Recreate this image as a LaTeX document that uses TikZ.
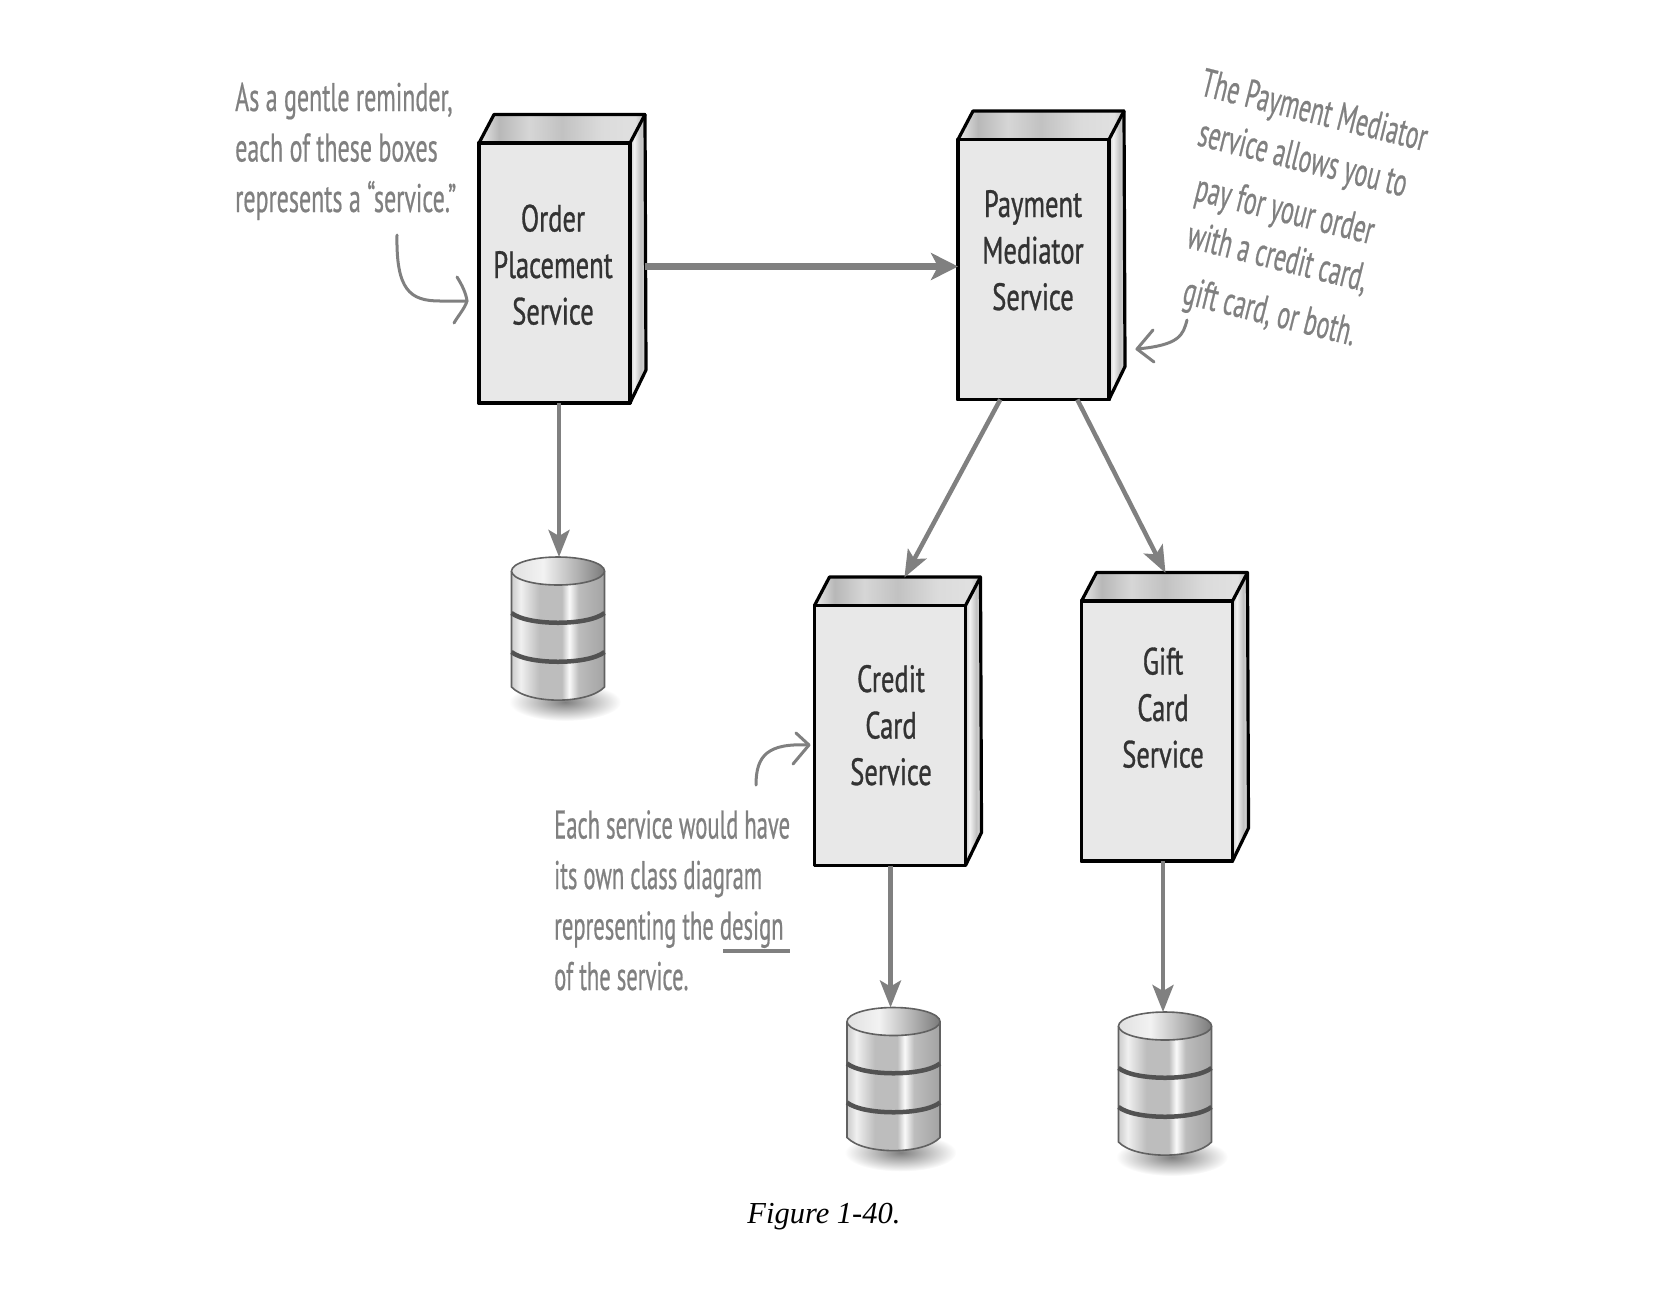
\documentclass[tikz,border=0pt]{standalone}
\usepackage{fontspec}
\setmainfont{Liberation Serif}
\newfontfamily\handnote[FakeStretch=0.6,FakeBold=0.5]{PT Sans}
\newfontfamily\handnotenarrow[FakeStretch=0.565,FakeBold=0.5]{PT Sans}
\newfontfamily\handlabel[FakeStretch=0.7,FakeBold=0.8]{PT Sans}
\usetikzlibrary{calc,arrows.meta}
\definecolor{inkgray}{gray}{0.5}
\definecolor{labelink}{gray}{0.2}
\pgfdeclarehorizontalshading{boxtopshade}{100bp}{color(0bp)=(black!8); color(25bp)=(black!8); color(31bp)=(black!28); color(40bp)=(black!16); color(50bp)=(black!24); color(62bp)=(black!14); color(72bp)=(black!12); color(75bp)=(black!28); color(100bp)=(black!28)}
\pgfdeclarehorizontalshading{boxsideshade}{100bp}{color(0bp)=(black!20); color(25bp)=(black!20); color(38bp)=(black!5); color(58bp)=(black!24); color(75bp)=(black!14); color(100bp)=(black!14)}
\pgfdeclarehorizontalshading{dbbodyshade}{100bp}{color(0bp)=(black!20); color(25bp)=(black!20); color(30bp)=(black!6); color(40bp)=(black!26); color(52bp)=(black!26); color(56bp)=(black!2); color(61bp)=(black!26); color(75bp)=(black!36); color(100bp)=(black!36)}
\pgfdeclarehorizontalshading{dbtopshade}{100bp}{color(0bp)=(black!12); color(25bp)=(black!12); color(42bp)=(black!5); color(60bp)=(black!30); color(75bp)=(black!52); color(100bp)=(black!52)}
\tikzset{
  x=1pt,y=-1pt,
  frontbox/.style={draw=black,fill=black!9,line width=3.4pt,line cap=round,line join=round,minimum width=151pt,minimum height=260pt,inner sep=0pt,outer sep=0pt},
  boxedge/.style={draw=black,line width=3.2pt,line cap=round,line join=round},
  hitbox/.style={inner sep=0pt,outer sep=0pt,minimum width=168pt,minimum height=288pt},
  hitdb/.style={inner sep=0pt,outer sep=0pt,minimum width=94pt,minimum height=143pt},
  svclabel/.style={font=\handlabel\fontsize{38}{46.5}\selectfont,text=labelink,align=center,inner sep=0pt},
  notetext/.style={font=\handnote\fontsize{40}{50.5}\selectfont,text=inkgray,align=left,inner sep=0pt},
  notenarrow/.style={font=\handnotenarrow\fontsize{40}{50.5}\selectfont,text=inkgray,align=left,inner sep=0pt},
  noteline/.style={font=\handnote\fontsize{40}{50.5}\selectfont,text=inkgray,inner sep=0pt,anchor=base west,rotate=-14},
  flow/.style={draw=inkgray,line width=4.5pt,-{Stealth[length=27pt,width=21pt,inset=6pt]}},
  flowthick/.style={draw=inkgray,line width=7.5pt,-{Stealth[length=27pt,width=27pt,inset=7pt]}},
  pointer/.style={draw=inkgray,line width=3pt,line cap=round,line join=round},
}
\newcommand{\svcbox}[3]{%
  \node[frontbox] (#1) at (#2,#3) {};
  \node[hitbox] (#1box) at (#2+8.5,#3-14) {};
  \shade[shading=boxtopshade] (#1.north west) -- ([shift={(15,-28.5)}]#1.north west) -- ([shift={(15,-28.5)}]#1.north east) -- (#1.north east) -- cycle;
  \shade[shading=boxsideshade] (#1.north east) -- ([shift={(15,-28.5)}]#1.north east) -- ([shift={(16,-33)}]#1.south east) -- (#1.south east) -- cycle;
  \draw[boxedge] (#1.north west) -- ([shift={(15,-28.5)}]#1.north west) -- ([shift={(15,-28.5)}]#1.north east) -- ([shift={(16,-33)}]#1.south east) -- (#1.south east);
  \draw[boxedge] (#1.north east) -- ([shift={(15,-28.5)}]#1.north east);
  \draw[boxedge] (#1.north west) rectangle (#1.south east);
}
\newcommand{\dbcyl}[3]{%
  \node[hitdb] (#1) at (#2,#3+57.5) {};
  \begin{scope}[shift={(#2,#3)}]
    \shade[inner color=black!50,outer color=white] (7,131) ellipse [x radius=56pt,y radius=19pt];
    \shade[shading=dbbodyshade] (-46.5,0) -- (-46.5,116) .. controls (-30,133.5) and (30,133.5) .. (46.5,116) -- (46.5,0) -- cycle;
    \draw[black!62,line width=1.6pt] (-46.5,0) -- (-46.5,116) .. controls (-30,133.5) and (30,133.5) .. (46.5,116) -- (46.5,0);
    \draw[black!68,line width=4.5pt] (-46.5,42) .. controls (-30,55) and (30,55) .. (46.5,42);
    \draw[black!68,line width=4.5pt] (-46.5,81) .. controls (-30,94) and (30,94) .. (46.5,81);
    \shade[shading=dbtopshade] (0,0) ellipse [x radius=46.5pt,y radius=14pt];
    \draw[black!62,line width=1.6pt] (0,0) ellipse [x radius=46.5pt,y radius=14pt];
  \end{scope}
}
\begin{document}
\begin{tikzpicture}
\useasboundingbox (0,0) rectangle (1656,1296);

% services
\svcbox{order}{554.5}{273}
\svcbox{payment}{1033.5}{269.5}
\svcbox{credit}{890}{735.5}
\svcbox{gift}{1157}{731}

\node[svclabel,anchor=base] (orderlabel) at (553,324.5) {Order\\Placement\\Service};
\node[svclabel,anchor=base] (paymentlabel) at (1033,310) {Payment\\Mediator\\Service};
\node[svclabel,anchor=base] (creditlabel) at (891,785) {Credit\\Card\\Service};
\node[svclabel,anchor=base] (giftlabel) at (1163,767.5) {Gift\\Card\\Service};

% databases
\dbcyl{orderdb}{558}{571}
\dbcyl{creditdb}{893.5}{1021.5}
\dbcyl{giftdb}{1165}{1026}

% connectors
\draw[flowthick] ($(orderbox.east |- payment.west)+(-2,-3)$) -- ($(payment.west)+(0,-3)$);
\draw[flow] ($(order.south -| orderdb.north)+(1,0)$) -- ($(orderdb.north)+(1,0)$);
\draw[flow] ($(payment.south west)!0.28!(payment.south east)$) -- ($(creditbox.north west)!0.535!(creditbox.north east)$);
\draw[flow] ($(payment.south west)!0.79!(payment.south east)$) -- (giftbox.north);
\draw[flow] ($(credit.south -| creditdb.north)+(-3,0)$) -- ($(creditdb.north)+(-3,0)$);
\draw[flow] ($(gift.south -| giftdb.north)+(-2,0)$) -- ($(giftdb.north)+(-2,0)$);

% notes
\node[notetext,anchor=base west] (noteorder) at (235,212) {As a gentle reminder,\\each of these boxes\\represents a “service.”};
\node[notenarrow,anchor=base west] (notecredit) at (554,990) {Each service would have\\its own class diagram\\representing the design\\of the service.};
\node[noteline] (notepayone) at (1199,95) {The Payment Mediator};
\node[noteline] (notepaytwo) at (1196,145) {service allows you to};
\node[noteline] (notepaythree) at (1193,200) {pay for your order};
\node[noteline] (notepayfour) at (1185,247) {with a credit card,};
\node[noteline] (notepayfive) at (1181,303) {gift card, or both.};

\coordinate (designleft) at (723,951);
\coordinate (designright) at (790,951);
\draw[inkgray,line width=3.2pt] (designleft) -- (designright);

% handwritten pointers
\coordinate (ptrorderstart) at (397,235);
\coordinate (ptrordertip) at (467,301);
\draw[pointer] (ptrorderstart) .. controls (396,290) and (410,301) .. (440,301) -- (ptrordertip);
\draw[pointer] (457,277) .. controls (462,285) and (466,293) .. (ptrordertip) .. controls (465,308) and (458,316) .. (454,323);

\coordinate (ptrpaystart) at (1187,320);
\coordinate (ptrpaytip) at (1137,349);
\draw[pointer] (ptrpaystart) .. controls (1183,335) and (1180,345) .. (ptrpaytip);
\draw[pointer] (1153,330) -- (ptrpaytip) -- (1154,362);

\coordinate (ptrcreditstart) at (756,785);
\coordinate (ptrcredittip) at (809,745);
\draw[pointer] (ptrcreditstart) .. controls (756,755) and (768,743) .. (ptrcredittip);
\draw[pointer] (796,733) -- (ptrcredittip) -- (793,764);

% caption
\node[font=\fontsize{30.5}{36}\selectfont\itshape,anchor=base,inner sep=0pt] (caption) at (824,1223) {Figure 1-40.};
\end{tikzpicture}
\end{document}
